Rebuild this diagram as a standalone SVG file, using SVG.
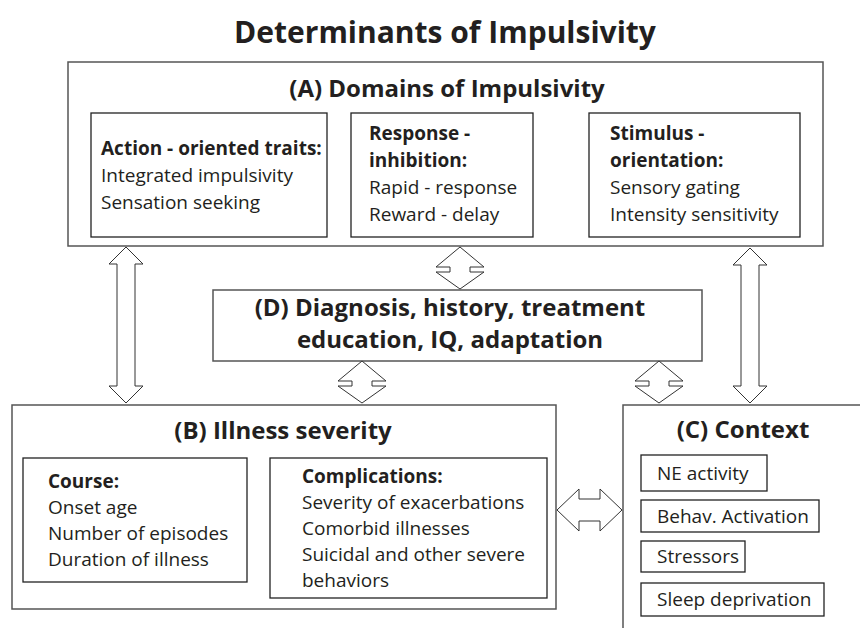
<svg xmlns="http://www.w3.org/2000/svg" width="860" height="628" viewBox="0 0 860 628">
<style>
text{font-family:"Open Sans","Noto Sans","Liberation Sans",sans-serif;fill:#231f20}
.t{font-size:30px;font-weight:bold}
.h{font-size:24px;font-weight:bold}
.b{font-size:19px;font-weight:bold}
.r{font-size:19px}
.outer{fill:#fff;stroke:#555;stroke-width:1.5}
.inner{fill:#fff;stroke:#222;stroke-width:1.3}
.arr{fill:#fff;stroke:#333;stroke-width:1}
</style>
<rect width="860" height="628" fill="#fff"/>
<text class="t" x="445" y="43" text-anchor="middle">Determinants of Impulsivity</text>

<g id="nodeA">
<rect class="outer" x="68" y="62" width="755" height="184"/>
<text class="h" x="447" y="97" text-anchor="middle">(A) Domains of Impulsivity</text>
</g>
<g id="nodeA1">
<rect class="inner" x="91" y="113" width="236" height="124"/>
<text class="b" x="101" y="155">Action - oriented traits:</text>
<text class="r" x="101" y="182">Integrated impulsivity</text>
<text class="r" x="101" y="209">Sensation seeking</text>
</g>
<g id="nodeA2">
<rect class="inner" x="351" y="113" width="182" height="124"/>
<text class="b" x="369" y="140">Response -</text>
<text class="b" x="369" y="167">inhibition:</text>
<text class="r" x="369" y="194">Rapid - response</text>
<text class="r" x="369" y="221">Reward - delay</text>
</g>
<g id="nodeA3">
<rect class="inner" x="589" y="113" width="211" height="124"/>
<text class="b" x="610" y="140">Stimulus -</text>
<text class="b" x="610" y="167">orientation:</text>
<text class="r" x="610" y="194">Sensory gating</text>
<text class="r" x="610" y="221">Intensity sensitivity</text>
</g>

<g id="nodeD">
<rect class="outer" x="213" y="290" width="489" height="71"/>
<text class="h" x="450" y="316" text-anchor="middle">(D) Diagnosis, history, treatment</text>
<text class="h" x="450" y="348" text-anchor="middle">education, IQ, adaptation</text>
</g>

<g id="nodeB">
<rect class="outer" x="12" y="405" width="544" height="204"/>
<text class="h" x="283" y="439" text-anchor="middle">(B) Illness severity</text>
</g>
<g id="nodeB1">
<rect class="inner" x="23" y="458" width="224" height="124"/>
<text class="b" x="48" y="488">Course:</text>
<text class="r" x="48" y="514">Onset age</text>
<text class="r" x="48" y="540">Number of episodes</text>
<text class="r" x="48" y="566">Duration of illness</text>
</g>
<g id="nodeB2">
<rect class="inner" x="270" y="458" width="277" height="140"/>
<text class="b" x="302" y="483">Complications:</text>
<text class="r" x="302" y="509">Severity of exacerbations</text>
<text class="r" x="302" y="535">Comorbid illnesses</text>
<text class="r" x="302" y="561">Suicidal and other severe</text>
<text class="r" x="302" y="587">behaviors</text>
</g>

<g id="nodeC">
<path d="M860,405 H623 V628" fill="none" stroke="#555" stroke-width="1.5"/>
<text class="h" x="743" y="438" text-anchor="middle">(C) Context</text>
</g>
<g id="nodeC1">
<rect class="inner" x="641" y="455" width="126" height="36"/>
<text class="r" x="657" y="480">NE activity</text>
</g>
<g id="nodeC2">
<rect class="inner" x="641" y="500" width="178" height="32"/>
<text class="r" x="657" y="523">Behav. Activation</text>
</g>
<g id="nodeC3">
<rect class="inner" x="641" y="541" width="104" height="31"/>
<text class="r" x="657" y="563">Stressors</text>
</g>
<g id="nodeC4">
<rect class="inner" x="641" y="583" width="183" height="33"/>
<text class="r" x="657" y="606">Sleep deprivation</text>
</g>

<g id="connectors">
<path class="arr" d="M126,247 L143,264 L135,264 L135,386 L143,386 L126,403 L109,386 L117,386 L117,264 L109,264 Z"/>
<path class="arr" d="M750,248 L767,265 L759,265 L759,386 L767,386 L750,403 L733,386 L741,386 L741,265 L733,265 Z"/>
<path class="arr" d="M460,247 L484,267 L470,267 L470,272 L484,272 L460,289 L436,272 L450,272 L450,267 L436,267 Z"/>
<path class="arr" d="M362,361 L386,381 L372,381 L372,386 L386,386 L362,403 L338,386 L352,386 L352,381 L338,381 Z"/>
<path class="arr" d="M659,361 L683,381 L669,381 L669,386 L683,386 L659,403 L635,386 L649,386 L649,381 L635,381 Z"/>
<path class="arr" d="M557,510 L579,489 L579,499 L600,499 L600,489 L622,510 L600,531 L600,521 L579,521 L579,531 Z"/>
</g>
</svg>
